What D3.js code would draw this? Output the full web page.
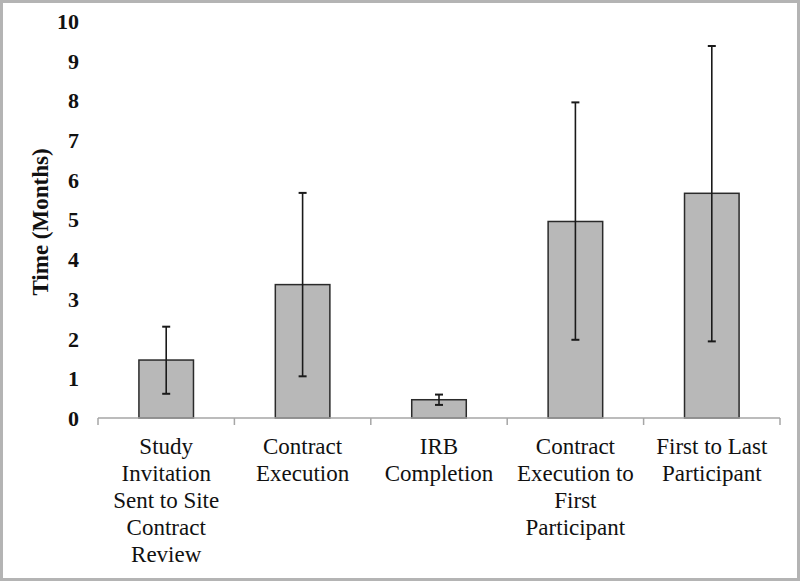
<!DOCTYPE html>
<html>
<head>
<meta charset="utf-8">
<script src="https://cdn.jsdelivr.net/npm/d3@7"></script>
<style>
html,body{margin:0;padding:0;background:#fff;}
svg{display:block;}
svg text{font-family:"Liberation Serif","Times New Roman",Times,serif;}
</style>
</head>
<body>
<svg id="chart" width="800" height="581"></svg>
<script>
const categories = [
  ["Study", "Invitation", "Sent to Site", "Contract", "Review"],
  ["Contract", "Execution"],
  ["IRB", "Completion"],
  ["Contract", "Execution to", "First", "Participant"],
  ["First to Last", "Participant"]
];
const means = [1.46, 3.36, 0.46, 4.95, 5.66];
const errLow = [0.61, 1.05, 0.33, 1.97, 1.93];
const errHigh = [2.30, 5.67, 0.59, 7.95, 9.37];
const yTicks = [0,1,2,3,4,5,6,7,8,9,10];

const svg = d3.select("#chart");
const W = 800, H = 581;
const FONT = "'Liberation Serif', 'Times New Roman', Times, serif";

// outer frame
svg.append("rect").attr("x",1.5).attr("y",1.5).attr("width",W-3).attr("height",H-3)
  .attr("fill","#fff").attr("stroke","#b4b4b4").attr("stroke-width",3);

const x = d3.scaleBand().domain(d3.range(categories.length)).range([98, 780]).paddingInner(0.6).paddingOuter(0.3);
const y = d3.scaleLinear().domain([0, 10]).range([418, 21]);

// y tick labels (no axis line)
const yAxis = d3.axisLeft(y).tickValues(yTicks).tickSize(0).tickPadding(0);
const gy = svg.append("g").attr("transform","translate(79,0)").call(yAxis);
gy.select(".domain").remove();
gy.attr("font-family",FONT).attr("font-size",22);
gy.selectAll("text").attr("font-family",FONT)
  .attr("font-size",22).attr("font-weight","bold").attr("fill","#111").attr("dy","0.34em");

// axis title
svg.append("text").attr("transform","translate(48,222) rotate(-90)")
  .attr("text-anchor","middle").attr("font-family",FONT)
  .attr("font-size",23).attr("font-weight","bold").attr("fill","#111").text("Time (Months)");

// bars
svg.append("g").selectAll("rect").data(means).join("rect")
  .attr("x",(d,i)=>x(i)).attr("width",x.bandwidth())
  .attr("y",d=>y(d)).attr("height",d=>y(0)-y(d))
  .attr("fill","#b8b8b8").attr("stroke","#2a2a2a").attr("stroke-width",1.5);

// x axis line + boundary ticks
const bounds = d3.range(categories.length+1).map(i => 98 + i*(780-98)/categories.length);
svg.append("line").attr("x1",98).attr("x2",780).attr("y1",y(0)).attr("y2",y(0))
  .attr("stroke","#a6a6a6").attr("stroke-width",1.5);
svg.append("g").selectAll("line").data(bounds).join("line")
  .attr("x1",d=>d).attr("x2",d=>d).attr("y1",y(0)).attr("y2",y(0)+7)
  .attr("stroke","#a6a6a6").attr("stroke-width",1.5);

// error bars
const eg = svg.append("g").attr("stroke","#1a1a1a").attr("stroke-width",1.6);
means.forEach((m,i)=>{
  const cx = x(i)+x.bandwidth()/2;
  eg.append("line").attr("x1",cx).attr("x2",cx).attr("y1",y(errLow[i])).attr("y2",y(errHigh[i]));
  [errLow[i], errHigh[i]].forEach(v=>{
    eg.append("line").attr("x1",cx-4).attr("x2",cx+4).attr("y1",y(v)).attr("y2",y(v)).attr("stroke-width",2);
  });
});

// category labels
const lg = svg.append("g").attr("font-family",FONT)
  .attr("font-size",23).attr("fill","#111").attr("text-anchor","middle");
categories.forEach((lines,i)=>{
  const cx = x(i)+x.bandwidth()/2;
  const t = lg.append("text").attr("x",cx).attr("y",454);
  lines.forEach((ln,j)=>{
    t.append("tspan").attr("x",cx).attr("y",454+j*27).text(ln);
  });
});
</script>
</body>
</html>
